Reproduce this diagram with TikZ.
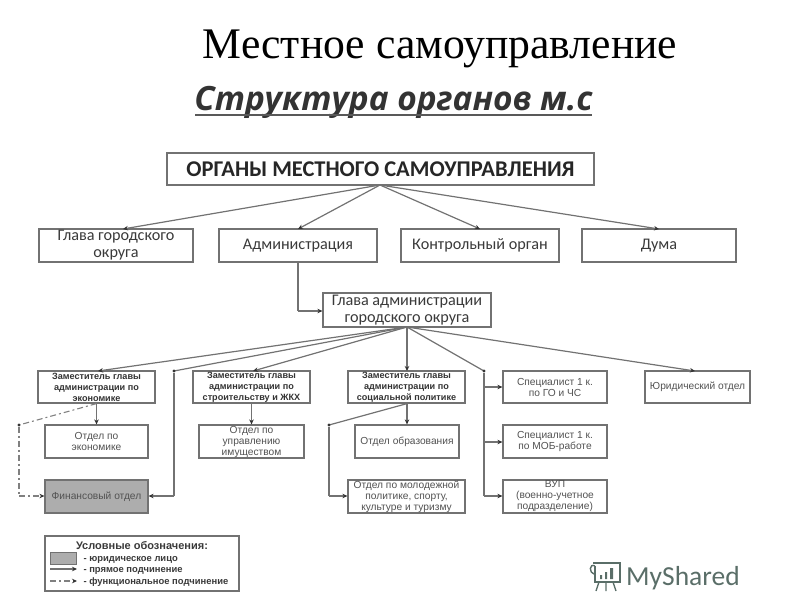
\documentclass[tikz,border=0pt]{standalone}
\usepackage{fontspec}
\setmainfont{Liberation Sans}
\newfontfamily\serifru{Liberation Serif}
\newfontfamily\carl{Carlito}
\newfontfamily\opens{Open Sans}
\usetikzlibrary{arrows.meta}
\definecolor{ln}{HTML}{727272}
\definecolor{tx}{HTML}{3A3A3A}
\tikzset{
 x=1pt,y=-1pt,
 box/.style={draw=ln,line width=1.2pt,fill=white,align=center,text=tx,inner sep=0pt,font=\carl\fontsize{16.2}{17}\selectfont},
 small/.style={box,font=\fontsize{10.2}{11}\selectfont,text=black!68},
 boss/.style={box,font=\bfseries\fontsize{9.1}{11}\selectfont,text=black!80},
 link/.style={draw=ln,line width=1.2pt,-{Stealth[length=5pt,width=4.5pt,black!80]}},
 nolink/.style={draw=ln,line width=1.2pt},
 dashlink/.style={draw=black!50,line width=1.1pt,dash pattern=on 6pt off 3pt on 2pt off 3pt,-{Stealth[length=5pt,width=4.5pt,black!80]}},
 dotn/.style={circle,fill=black!80,inner sep=0pt,minimum size=3.4pt},
 legtext/.style={anchor=base west,font=\bfseries\fontsize{9.4}{10}\selectfont,text=tx},
}
\newcommand{\bx}[7]{\node[#1,minimum width=#4-#3,minimum height=#6-#5] (#2) at ({(#3+#4)/2},{(#5+#6)/2}) {#7};}
\begin{document}
\begin{tikzpicture}
\useasboundingbox (0,0) rectangle (800,600);
\node[anchor=base] (title) at (440,58) {\serifru\fontsize{43.7}{44}\selectfont Местное самоуправление};
\node[anchor=base] (sub) at (393.5,110) {\opens\fontsize{33.4}{36}\selectfont\bfseries\itshape\textcolor{black!80}{Структура органов м.с}};
\coordinate (ula) at (195,115); \coordinate (ulb) at (592,115);
\draw[black!65,line width=2pt] (ula) -- (ulb);

\bx{box}{top}{167}{594}{153}{185}{\bfseries\fontsize{22.5}{23}\selectfont\textcolor{black!85}{ОРГАНЫ МЕСТНОГО САМОУПРАВЛЕНИЯ}}
\bx{box}{a1}{39}{193}{229}{262}{Глава городского\\округа}
\bx{box}{a2}{219}{377}{229}{262}{Администрация}
\bx{box}{a3}{401}{559}{229}{262}{Контрольный орган}
\bx{box}{a4}{582}{736}{229}{262}{Дума}
\bx{box}{gl}{323}{491}{293}{327}{Глава администрации\\городского округа}

\bx{boss}{z1}{38}{155}{371}{403}{Заместитель главы\\администрации по\\экономике}
\bx{boss}{z2}{193}{310}{371}{403}{Заместитель главы\\администрации по\\строительству и ЖКХ}
\bx{boss}{z3}{348}{465}{371}{403}{Заместитель главы\\администрации по\\социальной политике}
\bx{small}{s1}{503}{607}{371}{403}{Специалист 1 к.\\по ГО и ЧС}
\bx{small}{yu}{645}{750}{371}{403}{Юридический отдел}

\bx{small}{o1}{45}{148}{425}{458}{Отдел по\\экономике}
\bx{small}{o2}{199}{304}{425}{458}{Отдел по\\управлению\\имуществом}
\bx{small}{o3}{355}{459}{425}{458}{Отдел образования}
\bx{small}{s2}{503}{607}{425}{458}{Специалист 1 к.\\по МОБ-работе}

\node[small,fill=black!32,minimum width=103,minimum height=33] (fin) at (96.5,496.5) {Финансовый отдел};
\bx{small}{o4}{348}{465}{480}{513}{Отдел по молодежной\\политике, спорту,\\культуре и туризму}
\bx{small}{s3}{503}{607}{480}{513}{ВУП\\(военно-учетное\\подразделение)}

% upper connectors
\coordinate (tf) at (380,185);
\draw[link] (tf) -- (123,229);
\draw[link] (tf) -- (298,229);
\draw[link] (tf) -- (480,229);
\draw[link] (tf) -- (659,229);
\coordinate (ac) at (298,311);
\draw[nolink] (a2.south -| ac) -- (ac);
\draw[link] (ac) -- (gl.west |- ac);

% from head of administration
\coordinate (gf) at (407,327);
\coordinate (d1) at (174,371);
\coordinate (d2) at (484,371);
\draw[link] (gf) -- (98,371);
\draw[nolink] (gf) -- (d1);
\draw[link] (gf) -- (253,371);
\draw[link] (gf) -- (407,371);
\draw[nolink] (gf) -- (d2);
\draw[link] (gf) -- (695,371);
\node[dotn] (n1) at (d1) {};
\node[dotn] (n2) at (d2) {};
\coordinate (f1) at (174,496);
\draw[nolink] (n1) -- (f1);
\draw[link] (f1) -- (fin.east |- f1);
\coordinate (k1) at (484,387); \coordinate (k2) at (484,442); \coordinate (k3) at (484,496);
\draw[nolink] (n2) -- (k3);
\draw[link] (k1) -- (s1.west |- k1);
\draw[link] (k2) -- (s2.west |- k2);
\draw[link] (k3) -- (s3.west |- k3);

% deputy to departments
\draw[link] (z1.south -| o1.north) -- (o1.north);
\draw[link] (z2.south -| o2.north) -- (o2.north);
\draw[link] (z3.south -| o3.north) -- (o3.north);
\coordinate (d3) at (329,425);
\draw[nolink] (z3.south -| o3.north) -- (d3);
\node[dotn] (n3) at (d3) {};
\coordinate (f3) at (329,496);
\draw[nolink] (n3) -- (f3);
\draw[link] (f3) -- (o4.west |- f3);
\coordinate (d4) at (19,425);
\draw[dashlink,-] (z1.south -| o1.north) -- (d4);
\node[dotn] (n4) at (d4) {};
\coordinate (f4) at (19,496);
\draw[dashlink,-] (n4) -- (f4);
\draw[dashlink] (f4) -- (fin.west |- f4);

% legend
\node[draw=ln,line width=1.2pt,fill=white,minimum width=194,minimum height=55,inner sep=0pt] (leg) at (142,563.5) {};
\node[font=\bfseries\fontsize{11}{12}\selectfont,text=tx] (lt) at (142,546) {Условные обозначения:};
\node[draw=ln,line width=1pt,fill=black!32,minimum width=26,minimum height=12,inner sep=0pt] (lb) at (63,558) {};
\node[legtext] (l1) at (80,561) {- юридическое лицо};
\coordinate (p1) at (50,569); \coordinate (p2) at (77,569);
\draw[link] (p1) -- (p2);
\node[legtext] (l2) at (80,572.5) {- прямое подчинение};
\coordinate (q1) at (50,581); \coordinate (q2) at (77,581);
\draw[dashlink] (q1) -- (q2);
\node[legtext] (l3) at (80,584.5) {- функциональное подчинение};

% logo
\definecolor{lg}{HTML}{5A6E68}
\node[anchor=west,inner sep=0pt,font=\carl\fontsize{27.5}{28}\selectfont,text=lg] (logo) at (626,578.5) {MyShared};
\draw[lg,line width=1.4pt] (593,563) -- (620,563) -- (620,582) -- (595,582) -- (595,566);
\draw[lg,line width=1.4pt] (595,566) .. controls (589,563) and (589,573) .. (594,574);
\draw[lg,line width=1.4pt] (599,582) -- (596,591) (606,582) -- (606,591) (613,582) -- (616,591);
\fill[lg] (600,575) rectangle (602,579) (605,572) rectangle (607,579) (610,568) rectangle (613,579);
\end{tikzpicture}
\end{document}
